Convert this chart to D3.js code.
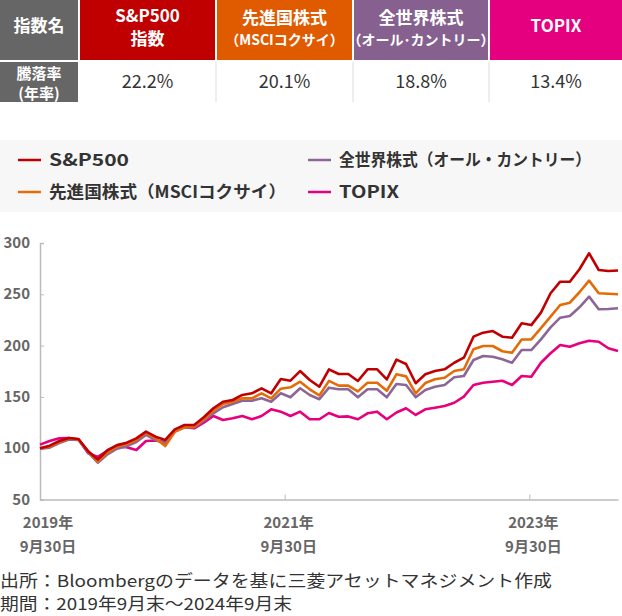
<!DOCTYPE html>
<html><head><meta charset="utf-8">
<script src="https://cdn.jsdelivr.net/npm/d3@7"></script>
<style>
html,body{margin:0;padding:0;background:#fff;}
svg{display:block;font-family:"Noto Sans CJK JP","Noto Sans",sans-serif;}
</style></head>
<body><svg id="c" width="622" height="616"></svg>
<script>
// ---- data ----
const seriesNames = ["S&P500","先進国株式（MSCIコクサイ）","全世界株式（オール・カントリー）","TOPIX"];
const seriesColors = ["#c00000","#e36c09","#8c6697","#e6007e"];
const tableHeaders = [["S&P500","指数"],["先進国株式","（MSCIコクサイ）"],["全世界株式","（オール･カントリー）"],["TOPIX"]];
const headerColors = ["#c00000","#e05a00","#86618f","#e4007f"];
const annualReturns = ["22.2%","20.1%","18.8%","13.4%"];
const sp500 = [100,102.5,107,110,109,97,89,98,103,105.4,109.6,116.1,111.2,108,118.4,122.6,122.6,130.1,138.9,145.3,147,151.9,153.5,158.4,153.5,167.4,165.8,175.2,166.5,159.9,176.9,172.3,172.3,165.5,176.9,176.9,167,186.3,182.1,163.3,172,175.2,176.9,183.3,188.2,208.7,212.6,214.2,208.7,207.7,221.7,220,232.1,251,262.3,262.3,274.4,290,273.7,272.7,273.2];
const kokusai = [100,101.5,106,109.5,108.5,97,87,96,101.5,104,108,115,109.5,102.1,116.1,120.4,121,128.2,136.5,143.1,145.3,148.6,148.6,153.5,148.6,158,159.4,164.8,157.4,151.4,165.6,161,161,155.4,163.8,163.8,156,172,170,153.5,163.5,167.2,168.7,175.2,176.9,196.4,199.6,199.6,194.5,193,206,206,217,228.2,239.6,241.8,252,263.3,251,250.5,250];
const acwi = [99.5,100.5,105,108.5,108,96,85.9,94,99.5,102,106,113,108,104.8,116.1,120.4,120.4,126.8,134,139.9,143.1,146.3,146.3,148.6,145.3,153.5,149.6,158.4,151.9,147.7,159,157.4,157.4,149.6,157.4,157.4,149.6,162.5,161.6,149.6,156.7,159.9,161.6,169.1,170.4,186,189.9,189.2,186.6,183.3,195.7,195.7,206.1,217.8,227.2,228.9,237.3,247.7,235.4,235.7,236.4];
const topix = [103.5,107,109.6,110,108.5,95,91.5,97.5,101.5,101,98.2,107,107.5,106,117.7,120.4,119.4,124.9,131.4,127.5,129.1,131.4,128.2,131.4,137.9,135.6,131.4,135.6,128.2,128.2,134.3,130.7,131,128.2,134,135.6,128.2,134.8,138.9,132.4,137.9,139.5,141.1,144.3,150.2,161.6,163.8,164.8,165.8,161.6,170.4,169.7,183.3,192.5,200.6,198.9,202.2,204.8,203.8,197.4,194.7];
const yTicks = [50,100,150,200,250,300];
const xTickIdx = [0,25.4,50.8];
const xTickLabels = [["2019年","9月30日"],["2021年","9月30日"],["2023年","9月30日"]];
const footnotes = ["出所：Bloombergのデータを基に三菱アセットマネジメント作成","期間：2019年9月末～2024年9月末"];

const svg = d3.select("#c");

// ---- table ----
const colX = [0,80,217,354,490,624];
const g0 = svg.append("g");
g0.append("rect").attr("x",0).attr("y",0).attr("width",78).attr("height",60).attr("fill","#666");
g0.append("text").attr("x",39).attr("y",32).attr("text-anchor","middle").attr("fill","#fff")
  .attr("font-size",17).attr("font-weight","bold").text("指数名");
g0.append("rect").attr("x",0).attr("y",62).attr("width",78).attr("height",40).attr("fill","#666");
g0.append("text").attr("x",39).attr("y",79).attr("text-anchor","middle").attr("fill","#fff")
  .attr("font-size",15).attr("font-weight","bold").text("騰落率");
g0.append("text").attr("x",39).attr("y",99).attr("text-anchor","middle").attr("fill","#fff")
  .attr("font-size",15).attr("font-weight","bold").text("(年率)");
tableHeaders.forEach((h,i)=>{
  const x0 = colX[i+1], w = colX[i+2]-colX[i+1]-2;
  g0.append("rect").attr("x",x0).attr("y",0).attr("width",w).attr("height",60).attr("fill",headerColors[i]);
  const cx = x0 + w/2;
  if (h.length===1){
    g0.append("text").attr("x",cx).attr("y",32).attr("text-anchor","middle").attr("fill","#fff")
      .attr("font-size",17).attr("font-weight","bold").text(h[0]);
  } else {
    g0.append("text").attr("x",cx).attr("y",i===0?22:24).attr("text-anchor","middle").attr("fill","#fff")
      .attr("font-size",17).attr("font-weight","bold").text(h[0]);
    g0.append("text").attr("x",cx).attr("y",45).attr("text-anchor","middle").attr("fill","#fff")
      .attr("font-size",i===0?17:14).attr("font-weight","bold").text(h[1]);
  }
  g0.append("rect").attr("x",x0).attr("y",62).attr("width",w).attr("height",40).attr("fill","#fff");
  g0.append("text").attr("x",cx).attr("y",88).attr("text-anchor","middle").attr("fill","#333")
    .attr("font-size",18).text(annualReturns[i]);
  if(i>0) g0.append("line").attr("x1",x0-1).attr("x2",x0-1).attr("y1",62).attr("y2",102).attr("stroke","#ddd");
});

// ---- legend ----
svg.append("rect").attr("x",0).attr("y",140).attr("width",622).attr("height",72).attr("fill","#f7f7f7");
const legPos = [[18,160],[18,192],[308,160],[308,192]];
const legLen = [80,237,252,60];
seriesNames.forEach((n,i)=>{
  const [lx,ly] = legPos[i];
  svg.append("line").attr("x1",lx).attr("x2",lx+23).attr("y1",ly).attr("y2",ly)
    .attr("stroke",seriesColors[i]).attr("stroke-width",2.5);
  svg.append("text").attr("x",lx+31).attr("y",ly+6).attr("fill","#333").attr("font-size",16.5)
    .attr("font-weight","bold").attr("textLength",legLen[i]).attr("lengthAdjust","spacingAndGlyphs").text(n);
});

// ---- chart ----
const x = d3.scaleLinear().domain([0,60]).range([40,618]);
const y = d3.scaleLinear().domain([50,300]).range([499.5,243]);

const axisCol = "#bbb";
const ya = svg.append("g").attr("transform","translate(40,0)")
  .call(d3.axisRight(y).tickValues(yTicks).tickSize(4).tickFormat(""));
ya.select(".domain").attr("stroke",axisCol).attr("stroke-width",1.5);
ya.selectAll(".tick line").attr("stroke",axisCol);
yTicks.forEach(v=>{
  svg.append("text").attr("x",30).attr("y",y(v)+5).attr("text-anchor","end").attr("fill","#666")
    .attr("font-size",15).attr("font-weight","bold").text(v);
});
const xa = svg.append("g").attr("transform",`translate(0,${y(50)})`)
  .call(d3.axisTop(x).tickValues(xTickIdx.slice(1)).tickSize(5).tickFormat("").tickSizeOuter(0));
xa.select(".domain").attr("stroke",axisCol).attr("stroke-width",1.5);
xa.selectAll(".tick line").attr("stroke",axisCol);
xTickIdx.forEach((t,i)=>{
  const tx = x(t)+ (i===0?8:4);
  svg.append("text").attr("x",tx).attr("y",528).attr("text-anchor","middle").attr("fill","#666")
    .attr("font-size",15).attr("font-weight","bold").text(xTickLabels[i][0]);
  svg.append("text").attr("x",tx).attr("y",552).attr("text-anchor","middle").attr("fill","#666")
    .attr("font-size",15).attr("font-weight","bold").text(xTickLabels[i][1]);
});

const line = d3.line().x((d,i)=>x(i)).y(d=>y(d));
const allSeries = [topix, acwi, kokusai, sp500];
const allColors = [seriesColors[3],seriesColors[2],seriesColors[1],seriesColors[0]];
allSeries.forEach((s,k)=>{
  svg.append("path").datum(s).attr("d",line).attr("fill","none")
    .attr("stroke",allColors[k]).attr("stroke-width",2.6).attr("stroke-linejoin","round");
});

// ---- footnotes ----
footnotes.forEach((f,i)=>{
  svg.append("text").attr("x",0).attr("y",587+i*23).attr("fill","#333").attr("font-size",16.5)
    .attr("textLength", i===0?552:292).attr("lengthAdjust","spacingAndGlyphs").text(f);
});
</script></body></html>
